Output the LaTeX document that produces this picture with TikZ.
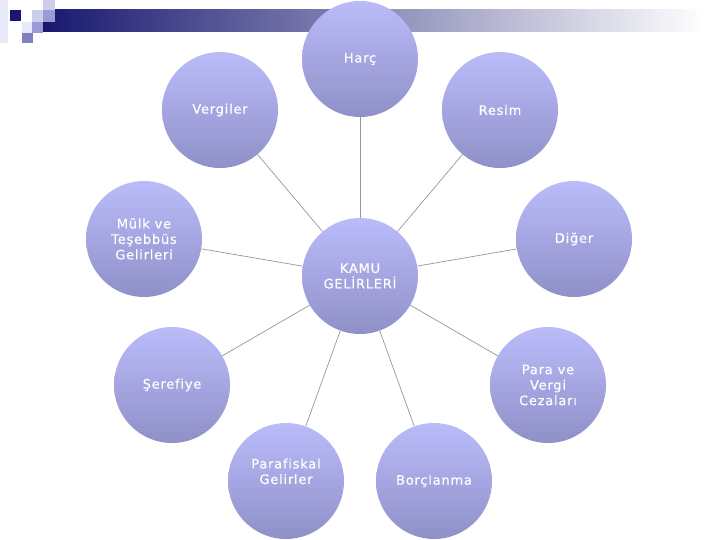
\documentclass[tikz,border=0pt]{standalone}
\usepackage{fontspec}
\setmainfont{DejaVu Sans}
\newfontfamily\bubblefont[LetterSpace=6, Ligatures=NoCommon, FakeBold=0.4]{DejaVu Sans}
\usepackage{xcolor}
\usepackage{tikz}
\definecolor{mynavy}{RGB}{24,24,112}
\definecolor{mytop}{RGB}{186,188,250}
\definecolor{mybottom}{RGB}{144,144,200}
\definecolor{mygrey}{RGB}{150,150,150}
\definecolor{sqpale}{RGB}{232,232,248}
\definecolor{sqlight}{RGB}{205,205,238}
\definecolor{sqmid}{RGB}{155,155,212}
\definecolor{sqdark}{RGB}{128,128,188}
\tikzset{
  bubble/.style={circle, minimum size=116pt, inner sep=0pt,
    top color=mytop, bottom color=mybottom, text=white,
    align=center, font=\bubblefont\fontsize{13}{15.5}\selectfont},
  link/.style={color=mygrey, line width=0.7pt}
}

\begin{document}
\begin{tikzpicture}[x=1pt, y=-1pt]
  \useasboundingbox (0,0) rectangle (720,540);

  % header bar
  \shade[left color=mynavy, right color=white] (43,10) rectangle (705,32);
  \fill[sqpale] (0,0) rectangle (8,43);
  \fill[mynavy] (10,10) rectangle (21,21);
  \fill[sqlight] (32,10) rectangle (43,22);
  \fill[sqlight] (43,0) rectangle (55,10);
  \fill[sqmid] (43,10) rectangle (55,22);
  \fill[sqmid] (32,22) rectangle (43,33);
  \fill[sqpale] (22,22) rectangle (32,33);
  \fill[sqdark] (22,33) rectangle (33,43);

  \node[bubble] (kamu) at (360,276) {KAMU\\GEL\.IRLER\.I};
  \node[bubble] (harc) at (360,59) {Harç};
  \node[bubble] (vergiler) at (220,110) {Vergiler};
  \node[bubble] (resim) at (500,110) {Resim};
  \node[bubble] (mulk) at (144,239) {Mülk ve\\Teşebbüs\\Gelirleri};
  \node[bubble] (diger) at (574,239) {Diğer};
  \node[bubble] (serefiye) at (172,385) {Şerefiye};
  \node[bubble] (ceza) at (548,385) {Para ve\\Vergi\\Cezaları};
  \node[bubble] (parafiskal) at (286,481) {Parafiskal\\Gelirler\\[4pt]};
  \node[bubble] (borclanma) at (434,481) {Borçlanma};

  \foreach \n in {harc, vergiler, resim, mulk, diger, serefiye, ceza, parafiskal, borclanma}
    \draw[link] (kamu) -- (\n);
\end{tikzpicture}
\end{document}
